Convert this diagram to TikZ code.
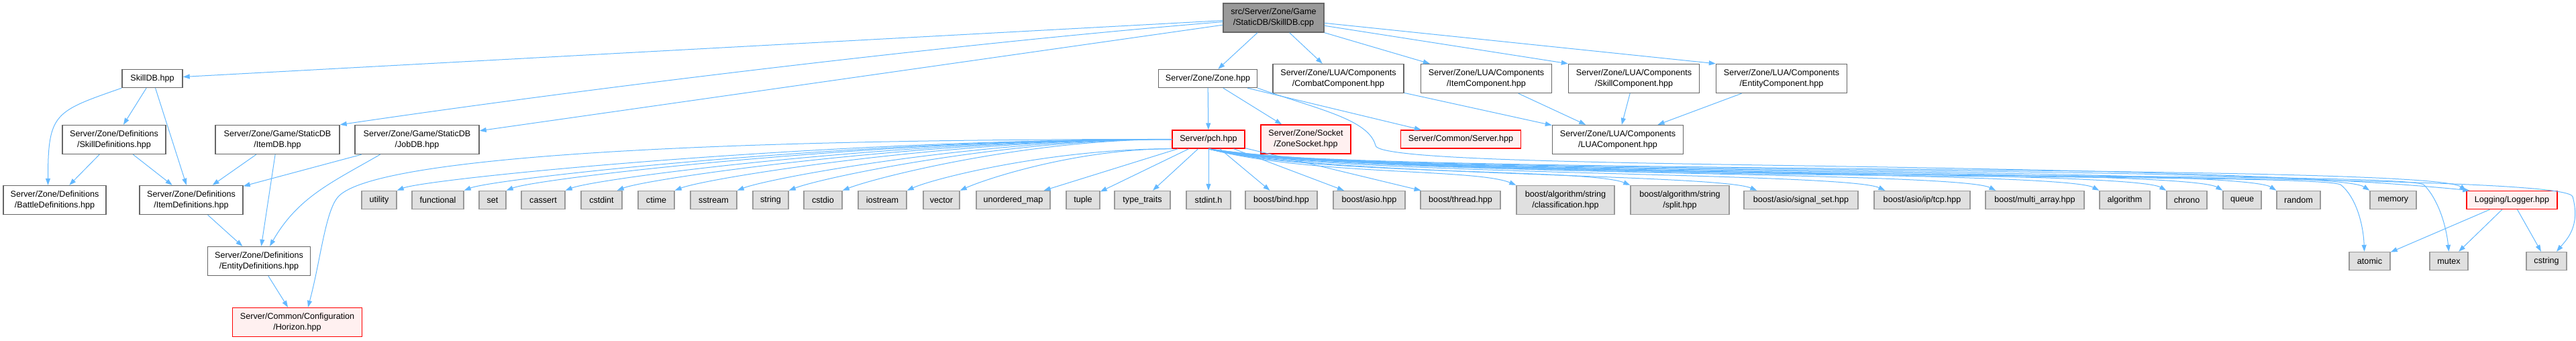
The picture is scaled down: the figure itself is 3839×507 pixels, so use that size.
\documentclass[tikz,border=0pt]{standalone}
\usepackage{fontspec}
\setmainfont{Liberation Sans}
\usetikzlibrary{arrows.meta}

\definecolor{depblue}{HTML}{63B8FF}
\definecolor{boxline}{HTML}{666666}
\definecolor{sysfill}{HTML}{E0E0E0}
\definecolor{sysline}{HTML}{999999}
\definecolor{missfill}{HTML}{FFF0F0}
\definecolor{mainfill}{HTML}{999999}

\begin{document}
\begin{tikzpicture}[x=1pt, y=1pt, font=\fontsize{12.6}{16}\selectfont,
    box/.style={draw=boxline, line width=1.4pt, fill=white, align=center, inner sep=0pt, minimum height=27pt},
    two/.style={minimum height=43pt},
    sys/.style={box, draw=sysline, fill=sysfill},
    miss/.style={box, draw=red, fill=missfill},
    mainbox/.style={box, fill=mainfill},
    dep/.style={draw=depblue, line width=1pt, -{Triangle[length=10pt,width=7pt]}}]

    \useasboundingbox (0,0) rectangle (3839,507);

    % --- FILE SORGENTE ---
    \node[mainbox, two, minimum width=150pt] (skilldbcpp) at (1898,480.5) {src/Server/Zone/Game\\/StaticDB/SkillDB.cpp};

    % --- PRIMO LIVELLO ---
    \node[box, minimum width=90pt] (skilldbhpp) at (227,390) {SkillDB.hpp};
    \node[box, minimum width=147pt] (zonehpp) at (1800,390) {Server/Zone/Zone.hpp};
    \node[box, two, minimum width=195pt] (combatcomp) at (1994.5,390) {Server/Zone/LUA/Components\\/CombatComponent.hpp};
    \node[box, two, minimum width=195pt] (itemcomp) at (2215,390) {Server/Zone/LUA/Components\\/ItemComponent.hpp};
    \node[box, two, minimum width=195pt] (skillcomp) at (2435,390) {Server/Zone/LUA/Components\\/SkillComponent.hpp};
    \node[box, two, minimum width=195pt] (entitycomp) at (2655,390) {Server/Zone/LUA/Components\\/EntityComponent.hpp};

    % --- SECONDO LIVELLO ---
    \node[box, two, minimum width=154pt] (skilldefs) at (170,299) {Server/Zone/Definitions\\/SkillDefinitions.hpp};
    \node[box, two, minimum width=185pt] (itemdb) at (413.5,299) {Server/Zone/Game/StaticDB\\/ItemDB.hpp};
    \node[box, two, minimum width=185pt] (jobdb) at (621.5,299) {Server/Zone/Game/StaticDB\\/JobDB.hpp};
    \node[miss, minimum width=108pt] (pch) at (1801,299.5) {Server/pch.hpp};
    \node[miss, two, minimum width=134pt] (zonesocket) at (1946,299.5) {Server/Zone/Socket\\/ZoneSocket.hpp};
    \node[miss, minimum width=179pt] (serverhpp) at (2177,299.5) {Server/Common/Server.hpp};
    \node[box, two, minimum width=195pt] (luacomp) at (2411,299) {Server/Zone/LUA/Components\\/LUAComponent.hpp};

    % --- TERZO LIVELLO ---
    \node[box, two, minimum width=153pt] (battledefs) at (81.5,209) {Server/Zone/Definitions\\/BattleDefinitions.hpp};
    \node[box, two, minimum width=154pt] (itemdefs) at (285,209) {Server/Zone/Definitions\\/ItemDefinitions.hpp};
    \node[sys, minimum width=52pt] (utility) at (565,209) {utility};
    \node[sys, minimum width=77pt] (functional) at (652.5,209) {functional};
    \node[sys, minimum width=40pt] (set) at (734,209) {set};
    \node[sys, minimum width=65pt] (cassert) at (809.5,209) {cassert};
    \node[sys, minimum width=61pt] (cstdint) at (896.5,209) {cstdint};
    \node[sys, minimum width=54pt] (ctime) at (978,209) {ctime};
    \node[sys, minimum width=69pt] (sstream) at (1063.5,209) {sstream};
    \node[sys, minimum width=53pt] (string) at (1148.5,209) {string};
    \node[sys, minimum width=57pt] (cstdio) at (1226.5,209) {cstdio};
    \node[sys, minimum width=72pt] (iostream) at (1315,209) {iostream};
    \node[sys, minimum width=54pt] (vector) at (1403,209) {vector};
    \node[sys, minimum width=110pt] (unorderedmap) at (1510,209) {unordered\_map};
    \node[sys, minimum width=50pt] (tuple) at (1614,209) {tuple};
    \node[sys, minimum width=83pt] (typetraits) at (1702.5,209) {type\_traits};
    \node[sys, minimum width=66pt] (stdinth) at (1801,209) {stdint.h};
    \node[sys, minimum width=107pt] (bind) at (1909.5,209) {boost/bind.hpp};
    \node[sys, minimum width=107pt] (asio) at (2040.5,209) {boost/asio.hpp};
    \node[sys, minimum width=119pt] (thread) at (2176.5,209) {boost/thread.hpp};
    \node[sys, two, minimum width=146pt] (classif) at (2333,209) {boost/algorithm/string\\/classification.hpp};
    \node[sys, two, minimum width=147pt] (split) at (2503.5,209) {boost/algorithm/string\\/split.hpp};
    \node[sys, minimum width=170pt] (signalset) at (2684,209) {boost/asio/signal\_set.hpp};
    \node[sys, minimum width=143pt] (tcp) at (2864.5,209) {boost/asio/ip/tcp.hpp};
    \node[sys, minimum width=147pt] (multiarray) at (3032.5,209) {boost/multi\_array.hpp};
    \node[sys, minimum width=75pt] (algorithm) at (3166.5,209) {algorithm};
    \node[sys, minimum width=60pt] (chrono) at (3259,209) {chrono};
    \node[sys, minimum width=57pt] (queue) at (3341.5,209) {queue};
    \node[sys, minimum width=65pt] (random) at (3425.5,209) {random};
    \node[sys, minimum width=69pt] (memory) at (3566.5,209) {memory};
    \node[miss, minimum width=135pt] (logger) at (3743.5,209) {Logging/Logger.hpp};

    % --- QUARTO E QUINTO LIVELLO ---
    \node[box, two, minimum width=153pt] (entitydefs) at (386,118) {Server/Zone/Definitions\\/EntityDefinitions.hpp};
    \node[sys, minimum width=61pt] (atomic) at (3531.5,118) {atomic};
    \node[sys, minimum width=57pt] (mutex) at (3649.5,118) {mutex};
    \node[sys, minimum width=60pt] (cstring) at (3795,118) {cstring};
    \node[miss, two, minimum width=193pt] (horizon) at (443,27) {Server/Common/Configuration\\/Horizon.hpp};

    % punti di passaggio delle curve lunghe
    \coordinate (hbend) at (505,215);
    \coordinate (zbend) at (2050,290);
    \coordinate (abend) at (3488,232);
    \coordinate (mbend) at (3612,232);
    \coordinate (cbend) at (3834,214);

    % --- DIPENDENZE DI SkillDB.cpp ---
    \draw[dep] (skilldbcpp) -- (skilldbhpp);
    \draw[dep] ([yshift=-6pt]skilldbcpp.west) .. controls (1400,440) and (850,372) .. (itemdb.north east);
    \draw[dep] (skilldbcpp) -- (jobdb);
    \draw[dep] (skilldbcpp) -- (zonehpp);
    \draw[dep] (skilldbcpp) -- (combatcomp);
    \draw[dep] (skilldbcpp) -- ([xshift=14pt]itemcomp.north west);
    \draw[dep] (skilldbcpp) -- (skillcomp.north west);
    \draw[dep] (skilldbcpp) -- (entitycomp.north west);

    % --- DEFINIZIONI ---
    \draw[dep] (skilldbhpp) -- (skilldefs);
    \draw[dep] (skilldbhpp.south west) .. controls +(-100,-35) and +(0,108) .. ([xshift=-10pt]battledefs.north);
    \draw[dep] (skilldbhpp) -- (itemdefs);
    \draw[dep] (skilldefs) -- (battledefs);
    \draw[dep] (skilldefs) -- (itemdefs);
    \draw[dep] (itemdb) -- (itemdefs);
    \draw[dep] (itemdb) -- (entitydefs);
    \draw[dep] (jobdb) -- (itemdefs);
    \draw[dep] ([xshift=-55pt]jobdb.south) .. controls +(-73,-42) and +(42,73) .. ([xshift=16pt]entitydefs.north);
    \draw[dep] (itemdefs) -- (entitydefs);
    \draw[dep] (entitydefs) -- (horizon);

    % --- Zone.hpp E COMPONENTI LUA ---
    \draw[dep] (zonehpp) -- (pch);
    \draw[dep] (zonehpp) -- (zonesocket);
    \draw[dep] (zonehpp) -- (serverhpp);
    \draw[dep] (zonehpp.south east) .. controls (1960,345) and (2040,330) .. (zbend) .. controls (2060,250) and (3200,272) .. ([xshift=5pt]logger.north west);
    \draw[dep] (combatcomp) -- (luacomp);
    \draw[dep] (itemcomp) -- (luacomp);
    \draw[dep] (skillcomp) -- (luacomp);
    \draw[dep] (entitycomp) -- (luacomp);

    % --- pch.hpp VERSO SINISTRA ---
    \draw[dep] (pch.west) .. controls (1000,300) and (560,270) .. (hbend) .. controls (485,195) and (478,120) .. ([xshift=16pt]horizon.north);
    \draw[dep] (pch.west) .. controls +(-520,0) and +(45,18) .. (utility.north east);
    \draw[dep] (pch.west) .. controls +(-475,0) and +(45,18) .. (functional.north east);
    \draw[dep] (pch.west) .. controls +(-445,0) and +(45,18) .. (set.north east);
    \draw[dep] (pch.west) .. controls +(-405,0) and +(45,18) .. (cassert.north east);
    \draw[dep] (pch.west) .. controls +(-370,0) and +(45,18) .. ([xshift=-8pt]cstdint.north east);
    \draw[dep] (pch.west) .. controls +(-335,0) and +(45,18) .. (ctime.north east);
    \draw[dep] (pch.west) .. controls +(-290,0) and +(45,18) .. (sstream.north east);
    \draw[dep] (pch.west) .. controls +(-255,0) and +(45,18) .. (string.north east);
    \draw[dep] (pch.west) .. controls +(-220,0) and +(45,18) .. (cstdio.north east);
    \draw[dep] (pch.south west) .. controls +(-180,0) and +(40,18) .. (iostream.north east);
    \draw[dep] (pch.south west) .. controls +(-140,0) and +(40,18) .. (vector.north east);
    \draw[dep] (pch) -- (unorderedmap);
    \draw[dep] (pch) -- (tuple);
    \draw[dep] (pch) -- (typetraits);
    \draw[dep] (pch) -- (stdinth);

    % --- pch.hpp VERSO DESTRA ---
    \draw[dep] (pch) -- (bind);
    \draw[dep] (pch) -- (asio);
    \draw[dep] (pch) -- (thread);
    \draw[dep] (pch.south) .. controls +(150,-40) and +(-60,25) .. (classif.north west);
    \draw[dep] (pch.south) .. controls +(150,-40) and +(-60,25) .. (split.north west);
    \draw[dep] (pch.south) .. controls +(150,-40) and +(-60,25) .. ([xshift=20pt]signalset.north west);
    \draw[dep] (pch.south) .. controls +(150,-40) and +(-60,28) .. ([xshift=17pt]tcp.north west);
    \draw[dep] (pch.south) .. controls +(150,-40) and +(-60,30) .. ([xshift=16pt]multiarray.north west);
    \draw[dep] (pch.south) .. controls +(150,-40) and +(-60,32) .. (algorithm.north west);
    \draw[dep] (pch.south) .. controls +(150,-40) and +(-60,34) .. (chrono.north west);
    \draw[dep] (pch.south) .. controls +(150,-40) and +(-60,36) .. (queue.north west);
    \draw[dep] (pch.south) .. controls +(150,-40) and +(-60,38) .. (random.north west);
    \draw[dep] (pch.south) .. controls +(150,-40) and +(-60,40) .. (memory.north west);
    \draw[dep] (pch.south) .. controls +(150,-40) and +(-60,42) .. (logger.north west);
    \draw[dep] (pch.south) .. controls (2150,232) and (3440,252) .. (abend) .. controls (3510,215) and (3522,175) .. ([xshift=-8pt]atomic.north);
    \draw[dep] (pch.south) .. controls (2150,232) and (3560,255) .. (mbend) .. controls (3632,212) and (3645,175) .. (mutex.north);
    \draw[dep] (pch.south) .. controls (2150,232) and (3822,258) .. (cbend) .. controls (3846,170) and (3825,150) .. ([xshift=15pt]cstring.north);

    % --- Logger.hpp ---
    \draw[dep] (logger) -- (atomic);
    \draw[dep] (logger) -- (mutex);
    \draw[dep] (logger) -- (cstring);

\end{tikzpicture}
\end{document}
